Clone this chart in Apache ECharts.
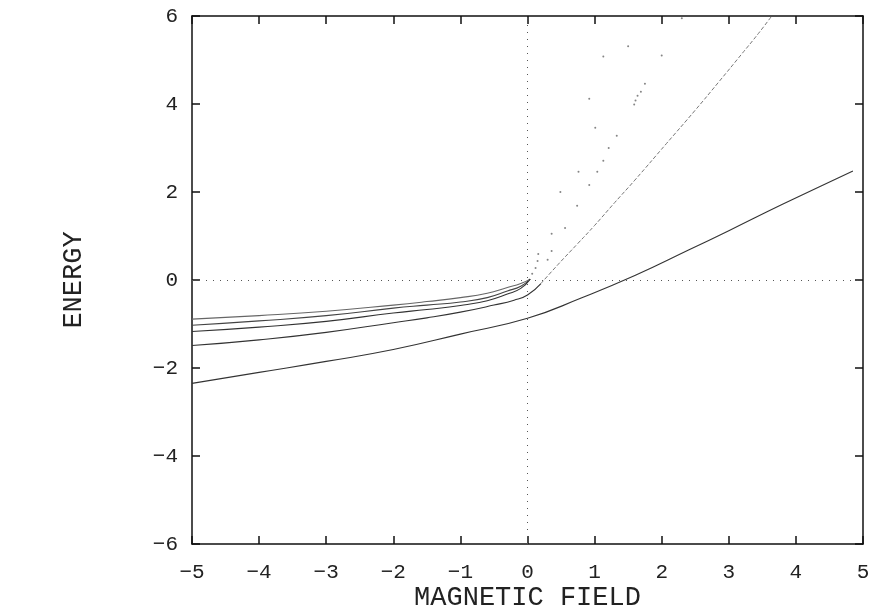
<!DOCTYPE html>
<html>
<head>
<meta charset="utf-8">
<script src="https://cdn.jsdelivr.net/npm/echarts@6/dist/echarts.min.js"></script>
<style>
  html, body { margin: 0; padding: 0; background: #fff; }
  #main { width: 870px; height: 614px; }
</style>
</head>
<body>
<div id="main"></div>
<script>
  // ground level
  var lowX = [-5, -4, -3, -2, -1, 0, 0.8, 1.6, 2.4, 3.0, 3.8, 4.85];
  var lowY = [-2.35, -2.1, -1.85, -1.58, -1.23, -0.87, -0.41, 0.1, 0.68, 1.12, 1.72, 2.48];

  // bundle of upper levels (left side)
  var bandX = [-5, -4, -3, -2, -1.5, -1, -0.6, -0.3, -0.1, 0.04];
  var band1Y = [-0.89, -0.81, -0.71, -0.57, -0.49, -0.40, -0.30, -0.17, -0.08, 0.02];
  var band2Y = [-1.03, -0.93, -0.81, -0.64, -0.57, -0.50, -0.40, -0.25, -0.14, 0.02];
  var band3Y = [-1.17, -1.07, -0.94, -0.75, -0.67, -0.58, -0.47, -0.32, -0.19, 0.02];

  // level that crosses B=0 and rises steeply
  var riseX = [-5, -4, -3, -2, -1.5, -1, -0.5, -0.2, 0, 0.2, 0.46, 0.75, 1.0, 1.3, 1.6, 2.07, 2.5, 2.85, 3.2, 3.44, 3.64];
  var riseY = [-1.49, -1.36, -1.19, -0.97, -0.86, -0.73, -0.57, -0.46, -0.34, -0.08, 0.36, 0.83, 1.24, 1.76, 2.27, 3.1, 3.86, 4.5, 5.15, 5.6, 6.0];

  // sparse dotted levels (B > 0)
  var dotX = [0.07, 0.12, 0.16, 0.15, 0.30, 0.36, 0.36, 0.49, 0.56, 0.74, 0.76, 0.92, 0.92, 1.01, 1.04, 1.13, 1.13, 1.21, 1.33, 1.50, 1.59, 1.61, 1.64, 1.69, 1.75, 2.0, 2.30];
  var dotY = [0.14, 0.27, 0.59, 0.43, 0.46, 0.66, 1.05, 2.0, 1.18, 1.69, 2.46, 2.16, 4.12, 3.46, 2.46, 2.71, 5.08, 3.0, 3.28, 5.31, 3.99, 4.08, 4.19, 4.28, 4.46, 5.1, 5.95];

  function pairs(xs, ys) {
    return xs.map(function (x, i) { return [x, ys[i]]; });
  }
  function minus(v) {
    return String(v).replace('-', '\u2212');
  }

  var font = 'Liberation Mono';
  var axisCommon = {
    type: 'value',
    axisLine: { show: true, onZero: false, lineStyle: { color: '#111', width: 1.5 } },
    axisTick: { show: true, inside: true, length: 8, lineStyle: { color: '#111', width: 1.5 } },
    splitLine: { show: false }
  };

  var myChart = echarts.init(document.getElementById('main'));

  var risePts = pairs(riseX, riseY);
  var split = riseX.indexOf(0.2);

  var option = {
    animation: false,
    grid: { left: 192, right: 7, top: 16, bottom: 70, outerBoundsMode: 'none' },
    xAxis: [
      Object.assign({}, axisCommon, {
        min: -5, max: 5, interval: 1, position: 'bottom',
        axisLabel: { fontFamily: font, fontSize: 21, color: '#222', margin: 18, formatter: minus },
        name: 'MAGNETIC FIELD', nameLocation: 'middle', nameGap: 40, nameMoveOverlap: false,
        nameTextStyle: { fontFamily: font, fontSize: 27, color: '#222' }
      }),
      Object.assign({}, axisCommon, {
        min: -5, max: 5, interval: 1, position: 'top',
        axisLabel: { show: false }
      })
    ],
    yAxis: [
      Object.assign({}, axisCommon, {
        min: -6, max: 6, interval: 2, position: 'left',
        axisLabel: { fontFamily: font, fontSize: 21, color: '#222', margin: 14, formatter: minus },
        name: 'ENERGY', nameLocation: 'middle', nameGap: 105, nameRotate: 90, nameMoveOverlap: false,
        nameTextStyle: { fontFamily: font, fontSize: 27, color: '#222' }
      }),
      Object.assign({}, axisCommon, {
        min: -6, max: 6, interval: 2, position: 'right',
        axisLabel: { show: false }
      })
    ],
    series: [
      {
        type: 'line', data: pairs(lowX, lowY), symbol: 'none', smooth: true,
        lineStyle: { color: '#333', width: 1.1 },
        markLine: {
          silent: true, symbol: 'none', label: { show: false },
          lineStyle: { color: '#555', width: 1, type: [1, 6] },
          data: [{ xAxis: 0 }, { yAxis: 0 }]
        }
      },
      { type: 'line', data: pairs(bandX, band1Y), symbol: 'none', smooth: true, lineStyle: { color: '#666', width: 1.1 } },
      { type: 'line', data: pairs(bandX, band2Y), symbol: 'none', smooth: true, lineStyle: { color: '#444', width: 1.1 } },
      { type: 'line', data: pairs(bandX, band3Y), symbol: 'none', smooth: true, lineStyle: { color: '#333', width: 1.1 } },
      { type: 'line', data: risePts.slice(0, split + 1), symbol: 'none', smooth: true, lineStyle: { color: '#333', width: 1.1 } },
      { type: 'line', data: risePts.slice(split), symbol: 'none', smooth: true, lineStyle: { color: '#777', width: 1, type: [4, 2] } },
      {
        type: 'scatter', data: pairs(dotX, dotY), symbol: 'circle', symbolSize: 2,
        itemStyle: { color: '#666' }
      }
    ]
  };

  myChart.setOption(option);
</script>
</body>
</html>
